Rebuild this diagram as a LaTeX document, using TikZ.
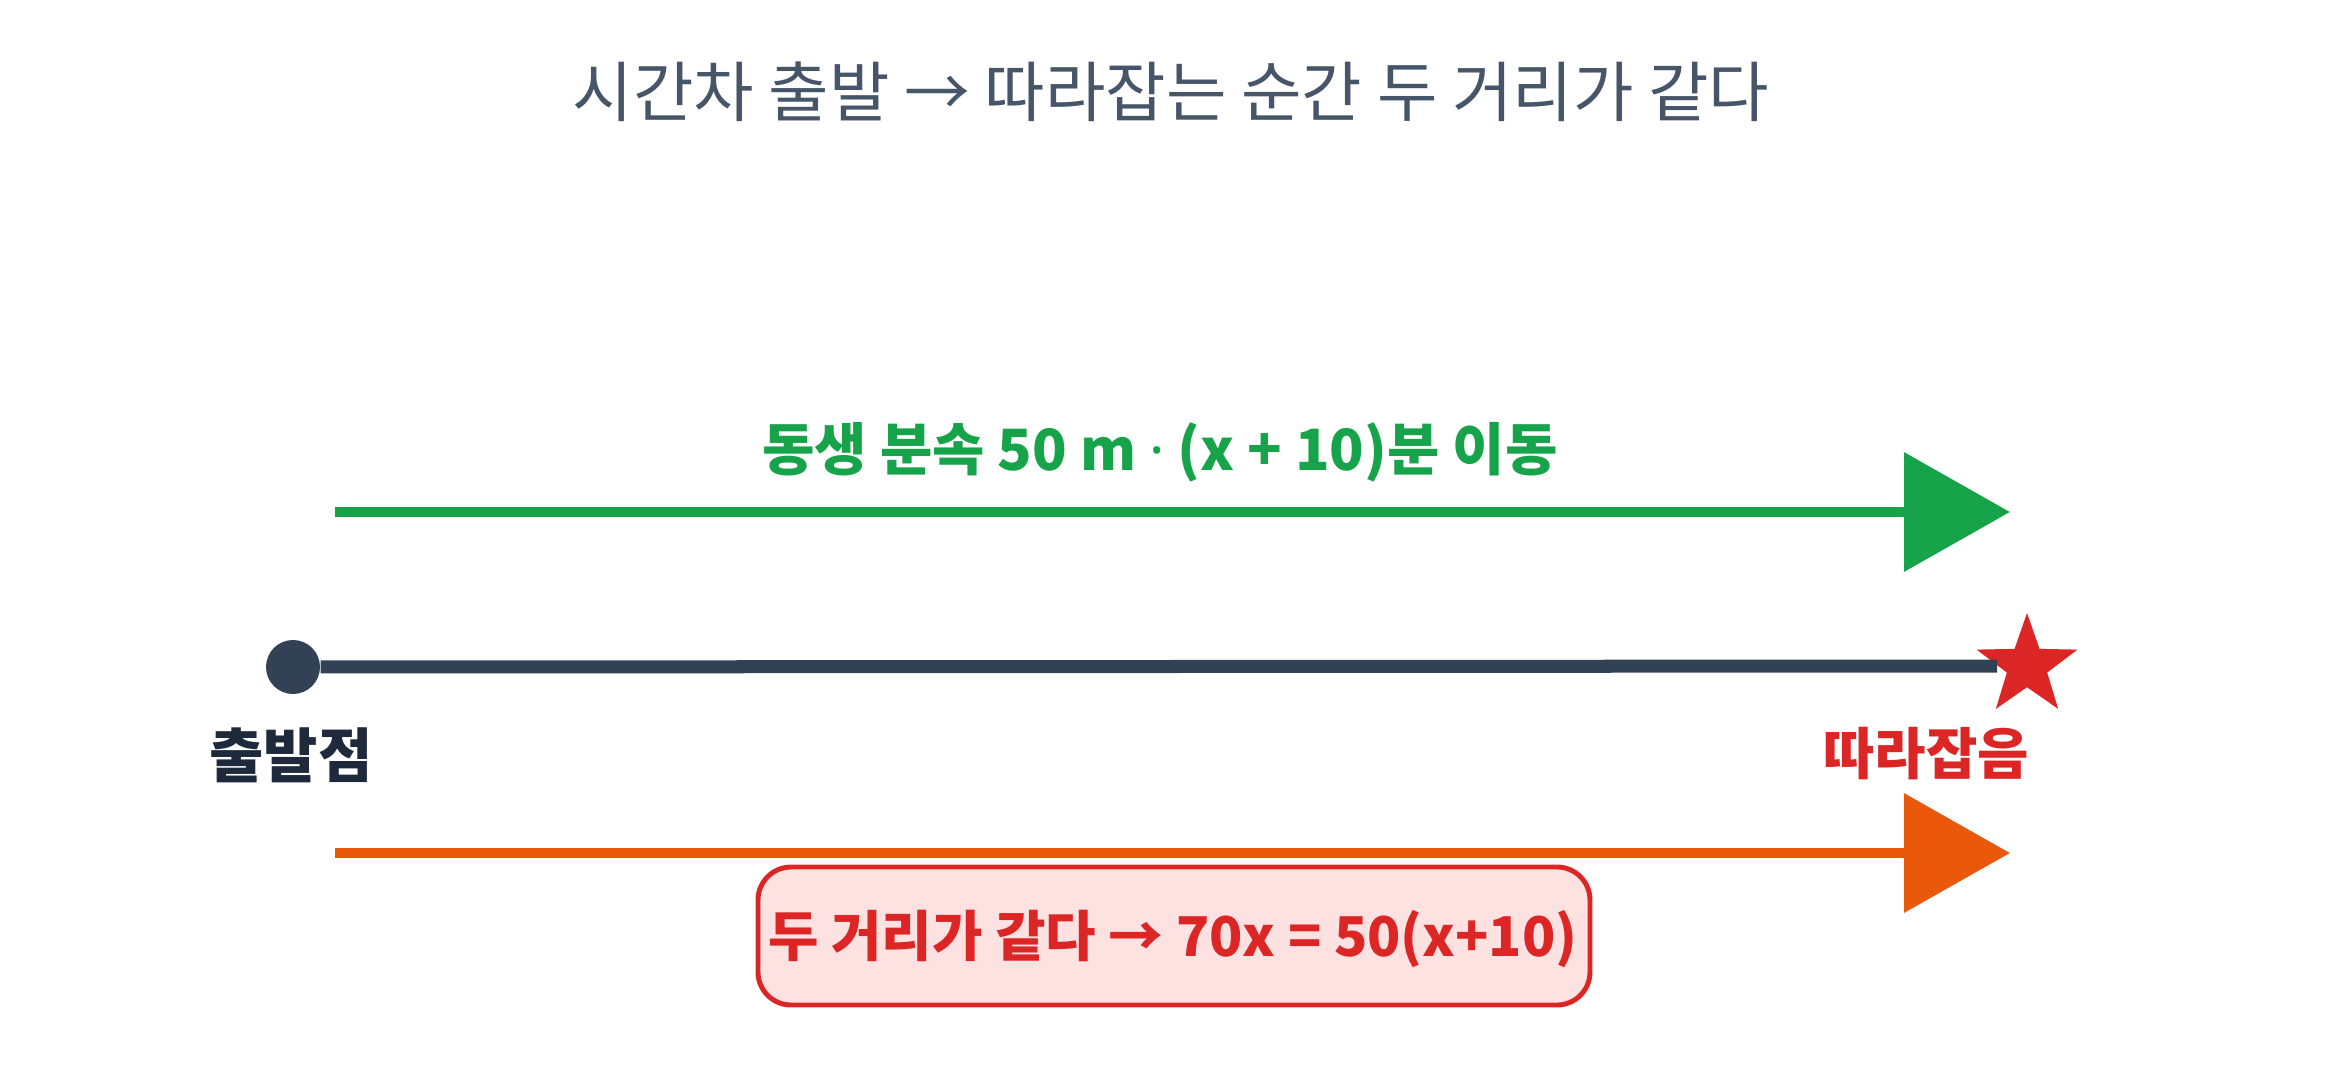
\documentclass[tikz,border=0pt]{standalone}
\usepackage{fontspec}
\setmainfont{Noto Sans CJK KR}
\newfontfamily\latinfont{Noto Sans}
\usepackage{tikz}
\usetikzlibrary{arrows.meta,shapes.geometric}
\definecolor{titlegray}{HTML}{475569}
\definecolor{trackdark}{HTML}{334155}
\definecolor{labeldark}{HTML}{1E293B}
\definecolor{sibgreen}{HTML}{16A34A}
\definecolor{runorange}{HTML}{EA580C}
\definecolor{catchred}{HTML}{DC2626}
\definecolor{boxpink}{HTML}{FEE2E2}
\begin{document}
\begin{tikzpicture}[
    runarrow/.style={line width=3.1pt,-{Triangle[length=1.06cm,width=1.17cm]}},
    biglabel/.style={font=\bfseries\fontsize{16.2}{18}\selectfont,inner sep=0pt}
  ]
              \useasboundingbox (0,0) rectangle (23.47,10.67);
              %\draw[help lines](0,0) grid(23,10);
              \node[text=titlegray,font=\fontsize{18.7}{22}\selectfont] (title) at (11.71,9.75) {시간차 출발 → 따라잡는 순간 두 거리가 같다};
              % sibling
              \coordinate (gs) at (3.35,5.55);
              \coordinate (ge) at (20.10,5.55);
              \path[draw,runarrow,sibgreen] (gs)--(ge);
              \node[biglabel,text=sibgreen] (glabel) at (11.60,6.15) {동생 분속 50 m {\latinfont ·} (x + 10)분 이동};
              % track
              \node[circle,fill=trackdark,minimum size=0.54cm,inner sep=0pt] (start) at (2.93,4.00) {};
              \node[star,star points=5,star point ratio=2.5,fill=catchred,minimum size=1.06cm,inner sep=0pt] (catch) at (20.27,4.01) {};
              \path[draw,trackdark,line width=3.7pt] (start)--(catch);
              \node[font=\bfseries\fontsize{16.8}{19}\selectfont,text=labeldark,inner sep=0pt] (startlabel) at (2.91,3.12) {출발점};
              \node[font=\bfseries\fontsize{15.9}{18}\selectfont,text=catchred,inner sep=0pt] (catchlabel) at (19.26,3.13) {따라잡음};
              % older one
              \coordinate (os) at (3.35,2.14);
              \coordinate (oe) at (20.10,2.14);
              \path[draw,runarrow,runorange] (os)--(oe);
              \node[draw=catchred,fill=boxpink,line width=1.4pt,rounded corners=0.33cm,minimum width=8.32cm,minimum height=1.38cm] (eqbox) at (11.74,1.31) {};
              \node[font=\bfseries\fontsize{15.6}{18}\selectfont,text=catchred,inner sep=0pt] (eqlabel) at (11.73,1.28) {두 거리가 같다 → 70x = 50(x+10)};
\end{tikzpicture}
\end{document}
